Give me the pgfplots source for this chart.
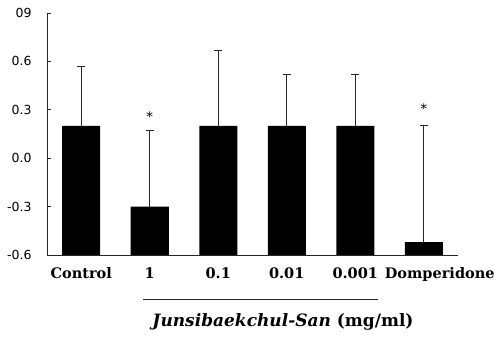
\documentclass[border=0pt]{standalone}
\usepackage{fontspec}
\setmainfont{DejaVu Serif}
\newfontfamily\sansf{DejaVu Sans}
\usepackage{pgfplots}
\pgfplotsset{compat=1.18}
\usepackage{pgfplotstable}
\pgfplotstableread{
x y err
0 0.20 0.37
1 -0.30 0.47
2 0.20 0.47
3 0.20 0.32
4 0.20 0.32
5 -0.52 0.72
}\datatable
\begin{document}
\begin{tikzpicture}[x=1pt,y=1pt]
\useasboundingbox (0,0) rectangle (501,337);
\begin{axis}[
  at={(47pt,82pt)}, anchor=south west,
  scale only axis, width=411pt, height=242pt,
  xmin=-0.5, xmax=5.5, ymin=0, ymax=1.5,
  axis lines=left, axis line style={-, black!85, line width=0.8pt},
  clip=false,
  xtick={0,...,5},
  xticklabels={Control,1,0.1,0.01,0.001,\hspace*{32pt}Domperidone},
  major x tick style={draw=none},
  extra x ticks={0.5,1.5,2.5,3.5,4.5,5.5},
  extra x tick labels={},
  extra x tick style={tick style={black!85, line width=0.8pt}, major tick length=4pt},
  xticklabel style={font=\fontsize{14.5}{16}\selectfont\bfseries},
  xticklabel shift=9pt,
  ytick={0,0.3,0.6,0.9,1.2,1.5},
  yticklabels={-0.6,-0.3,0.0,0.3,0.6,09},
  yticklabel style={font=\sansf\fontsize{12.5}{14}\selectfont},
  yticklabel shift=12pt,
  y tick style={black!85, line width=0.8pt},
  major tick length=4pt,
  tick align=inside,
]
\addplot[ybar, bar width=38pt, fill=black, draw=none,
  error bars/.cd, y dir=plus, y explicit,
  error bar style={black!85, line width=1pt},
  error mark options={rotate=90, mark size=4pt, black!85, line width=1pt}]
  table[x=x, y expr=\thisrow{y}+0.6, y error=err] {\datatable};
\node[font=\fontsize{13}{14}\selectfont] at (axis cs:1,0.855) {*};
\node[font=\fontsize{13}{14}\selectfont] at (axis cs:5,0.905) {*};
\end{axis}
\draw[black!85, line width=0.9pt] (143,38) -- (378,38);
\node[font=\fontsize{17}{19}\selectfont\bfseries] at (283,15) {\textit{Junsibaekchul-San} (mg/ml)};
\end{tikzpicture}
\end{document}
